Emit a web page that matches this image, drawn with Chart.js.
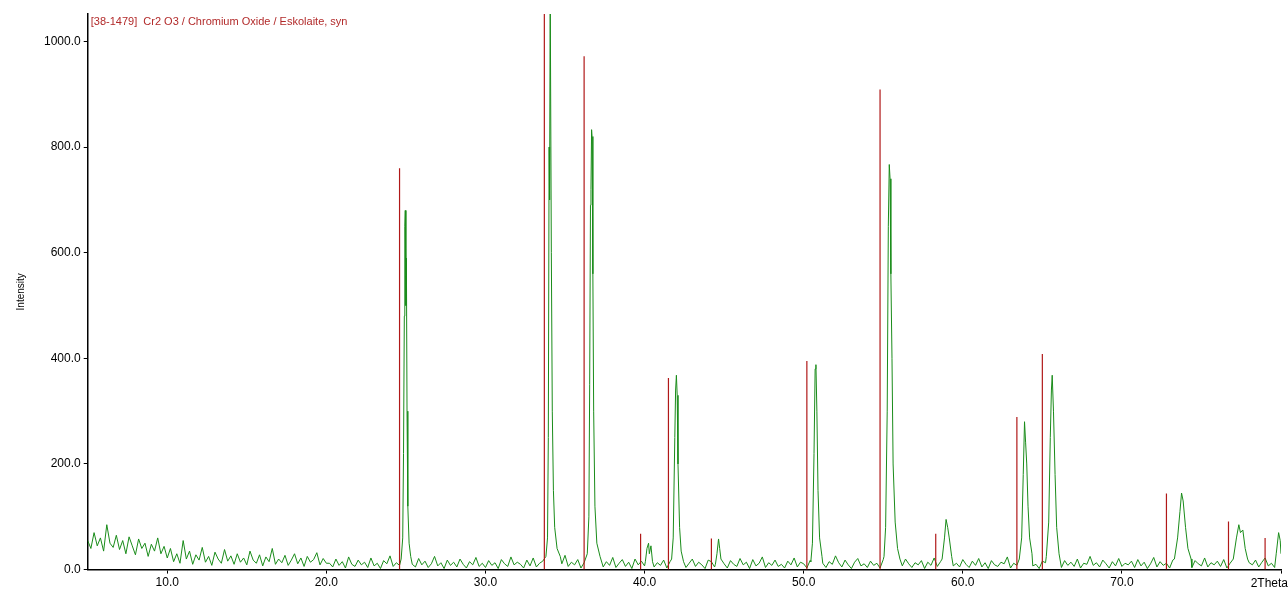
<!DOCTYPE html>
<html><head><meta charset="utf-8">
<script src="https://cdn.jsdelivr.net/npm/chart.js@4"></script>
<style>html,body{margin:0;padding:0;background:#fff}#w{width:1288px;height:592px}</style>
</head><body><div id="w"><canvas id="c"></canvas></div>
<script>
// Background intensity, 5.0 to 80.0 in 0.2 deg steps
const bgStart = 5.0, bgStep = 0.2;
const background = [
55,40,70,45,60,35,85,50,42,65,38,55,30,62,45,28,58,40,50,25,48,35,60,30,44,22,
40,15,30,12,55,20,35,10,28,18,42,14,25,8,33,20,12,38,16,26,10,30,14,22,9,35,18,12,28,7,24,15,40,10,20,13,27,8,18,30,11,22,6,25,14,19,32,9,21,12,
12,5,20,8,15,3,24,10,6,18, 9,14,4,22,7,12,2,17,11,26, 6,13,8,19,3,15,10,5,21,9, 16,4,11,25,7,13,2,18,8,14, 5,20,10,3,15,9,23,6,12,4,
17,8,13,2,19,11,6,24,9,14, 10,3,18,7,22,5,12,16,4,20, 8,15,2,11,27,6,14,9,19,3, 13,7,21,4,10,17,5,15,8,23, 4,12,19,6,14,2,20,9,16,7,
11,22,5,13,8,18,3,15,10,25, 7,16,4,12,20,6,14,9,2,18, 15,5,23,8,11,3,17,10,6,21, 9,14,2,19,7,12,24,4,13,8, 18,6,10,3,16,9,22,5,14,11,
3,17,8,20,6,12,4,15,10,26, 13,5,18,9,2,14,21,7,11,4, 16,8,12,3,19,6,23,10,5,15, 7,20,11,4,13,9,17,2,14,8, 22,6,15,10,3,18,7,12,5,19,
10,4,16,8,21,5,13,2,17,9, 6,14,11,24,3,12,8,18,4,15, 19,7,10,2,16,13,5,22,9,11, 4,17,8,14,6,20,3,12,10,25, 8,13,5,18,11,3,15,7,21,6,
12,9,16,4,19,7,14,2,11,23, 5,15,8,12,3,18,10,6,20,9, 14,4,17,11,7,22,5,13,9,16, 6,19,3,12,8,15,10,24,4,13, 9,18,5,14,22,7,12,4,16,30
];
// Diffraction peaks (2Theta, intensity)
const peakX = [
[24.7,24.8,24.85,24.9,24.93,24.96,25.0,25.03,25.07,25.12,25.2,25.3],
[33.8,33.9,33.95,34.0,34.03,34.07,34.1,34.14,34.2,34.27,34.35,34.5,34.7],
[36.4,36.5,36.55,36.6,36.63,36.67,36.7,36.75,36.8,36.88,37.0,37.2],
[40.05,40.15,40.25,40.3,40.4,40.5],
[41.7,41.8,41.9,41.95,42.0,42.05,42.1,42.2,42.3,42.45],
[44.45,44.55,44.65,44.72,44.8],
[50.45,50.55,50.65,50.72,50.77,50.83,50.9,51.0,51.15],
[55.05,55.15,55.25,55.32,55.38,55.43,55.48,55.55,55.62,55.75,55.9,56.05],
[58.7,58.85,58.95,59.05,59.15,59.3],
[63.55,63.7,63.8,63.88,63.95,64.02,64.1,64.2,64.35],
[65.25,65.4,65.5,65.57,65.62,65.7,65.8,65.9,66.05],
[73.3,73.5,73.65,73.75,73.85,74.0,74.15,74.35],
[77.0,77.2,77.35,77.45,77.6,77.75,77.9],
[79.7,79.85,79.95]
];
const peakY = [
[20,60,220,480,650,680,500,590,300,120,50,25],
[25,60,250,800,700,1100,1100,600,300,150,80,40,25],
[30,100,350,690,720,833,820,560,300,120,50,25],
[15,40,50,30,45,15],
[20,60,250,340,368,330,200,80,35,15],
[10,30,58,40,20],
[15,50,220,380,388,300,150,60,25],
[25,80,300,650,767,740,560,400,200,90,40,20],
[20,60,95,80,60,25],
[20,60,180,280,240,200,120,60,30],
[25,90,250,340,368,300,180,80,30],
[20,60,110,145,130,80,40,20],
[20,60,85,70,75,40,20],
[30,70,55]
];
// Reference pattern 38-1479 Cr2O3 sticks
const refPos = [24.6,33.7,36.2,39.75,41.5,44.2,50.2,54.8,58.3,63.4,65.0,72.8,76.7,79.0];
const refInt = [760,1100,972,68,363,59,395,909,68,289,408,144,91,60];
const xTicks = [10,20,30,40,50,60,70,80];
const yTicks = [0,200,400,600,800,1000];

const pts = [];
background.forEach((v,i)=>{
  const x = +(bgStart + i*bgStep).toFixed(2);
  if (!peakX.some(p => x >= p[0] && x <= p[p.length-1])) pts.push({x, y:v});
});
peakX.forEach((p,k)=>p.forEach((x,j)=>pts.push({x, y:peakY[k][j]})));
pts.sort((a,b)=>a.x-b.x);
const sticks = [];
refPos.forEach((x,i)=>{sticks.push({x,y:0},{x,y:refInt[i]},{x,y:null});});

const label = {id:'lbl', afterDraw(c){const a=c.chartArea,g=c.ctx;g.save();
  g.fillStyle='#b22a2a';g.font='11px "Liberation Sans", Arial';g.textBaseline='top';
  g.fillText('[38-1479]  Cr2 O3 / Chromium Oxide / Eskolaite, syn',a.left+3,a.top+2);
  g.fillStyle='#000';g.font='12px "Liberation Sans", Arial';g.textAlign='right';
  g.fillText('2Theta',1288,a.bottom+8);g.restore();}};

new Chart(document.getElementById('c'),{
  type:'scatter',
  data:{datasets:[
    {data:pts, showLine:true, borderColor:'#1a8c1a', borderWidth:1, pointRadius:0, order:2},
    {data:sticks, showLine:true, spanGaps:false, borderColor:'#b01818', borderWidth:1.2, pointRadius:0, order:1}
  ]},
  options:{
    animation:false, responsive:true, maintainAspectRatio:false,
    layout:{padding:{top:14,right:7,left:15,bottom:0}},
    plugins:{legend:{display:false}, tooltip:{enabled:false}},
    scales:{
      x:{type:'linear', min:5, max:80,
        afterBuildTicks:s=>{s.ticks=xTicks.map(v=>({value:v}));},
        ticks:{color:'#000', padding:2, font:{size:12, family:'"Liberation Sans", Arial'}, maxRotation:0, callback:v=>v===80?'':v.toFixed(1)},
        grid:{drawOnChartArea:false, drawTicks:true, tickLength:4, color:'#000'},
        border:{color:'#000', width:1.5}},
      y:{min:0, max:1052,
        afterBuildTicks:s=>{s.ticks=yTicks.map(v=>({value:v}));},
        ticks:{color:'#000', font:{size:12, family:'"Liberation Sans", Arial'}, callback:v=>v.toFixed(1)},
        title:{display:true, text:'Intensity', color:'#000', padding:{top:0,bottom:14}, font:{size:10, family:'"Liberation Sans", Arial'}},
        grid:{drawOnChartArea:false, drawTicks:true, tickLength:4, color:'#000'},
        border:{color:'#000', width:1.5}}
    }
  },
  plugins:[label]
});
</script></body></html>
